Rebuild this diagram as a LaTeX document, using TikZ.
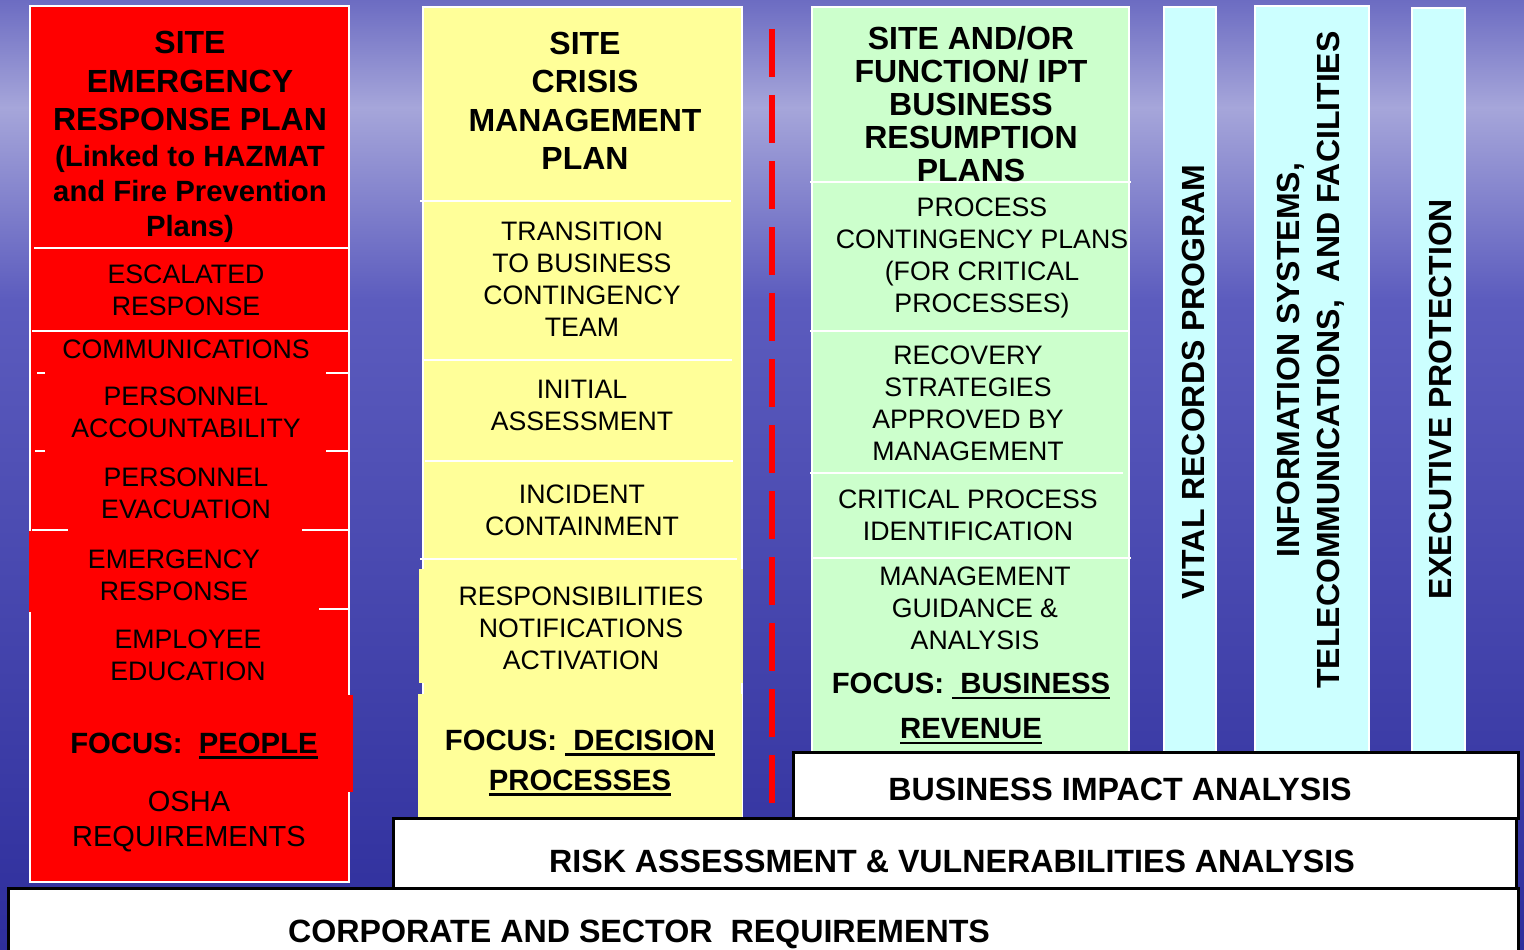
\documentclass[tikz,border=0pt]{standalone}
\usepackage{fontspec}
\setmainfont{Liberation Sans}
\usepackage{tikz}
\usetikzlibrary{calc}

\definecolor{planred}{HTML}{FF0000}
\definecolor{planyellow}{HTML}{FFFF99}
\definecolor{plangreen}{HTML}{CCFFCC}
\definecolor{plancyan}{HTML}{CCFFFF}
\definecolor{seatop}{HTML}{6C6CC2}
\definecolor{seaband}{HTML}{A6A6DA}
\definecolor{seamid}{HTML}{5C5CBE}
\definecolor{seabottom}{HTML}{2E2E9C}

\newcommand{\focusul}[1]{\setbox0\hbox{#1}\rlap{\rule[-5.5pt]{\wd0}{2.5pt}}\box0}

\begin{document}
\begin{tikzpicture}[x=1pt, y=-1pt,
        column_style/.style={draw=white, line width=2pt},
        sep_style/.style={draw=white, line width=2pt},
        item_style/.style={inner sep=0pt, align=center, font=\fontsize{26.7}{32}\selectfont},
        head_style/.style={inner sep=0pt, align=center, font=\fontsize{32}{38.5}\selectfont\bfseries},
        focus_style/.style={inner sep=0pt, align=center, font=\fontsize{29.3}{40}\selectfont\bfseries},
        side_style/.style={inner sep=0pt, align=center, rotate=90, font=\fontsize{32}{40}\selectfont\bfseries},
        dash_style/.style={draw=planred, line width=6pt, dash pattern=on 48pt off 18pt},
        base_style/.style={draw=black, line width=3pt, fill=white},
        base_text_style/.style={inner sep=0pt, anchor=base, font=\fontsize{32.2}{38}\selectfont\bfseries}]

        % background
        \useasboundingbox (0,0) rectangle (1524,950);
        \shade [top color=seatop, bottom color=seaband] (0,0) rectangle (1524,108);
        \shade [top color=seaband, bottom color=seamid] (0,107) rectangle (1524,300);
        \shade [top color=seamid, bottom color=seabottom] (0,299) rectangle (1524,950);

        % emergency response column
        \draw [column_style, fill=planred] (30,6) rectangle (349,882);
        \fill [planred] (29,531) rectangle (347,612);
        \fill [planred] (33,695) rectangle (353,792);
        \draw [sep_style] (34,248) -- (350,248);
        \draw [sep_style] (32,331) -- (348,331);
        \draw [sep_style] (37,373) -- (45,373);
        \draw [sep_style] (326,373) -- (348,373);
        \draw [sep_style] (35,451) -- (45,451);
        \draw [sep_style] (326,451) -- (348,451);
        \draw [sep_style] (32,530) -- (68,530);
        \draw [sep_style] (302,530) -- (348,530);
        \draw [sep_style] (319,609) -- (348,609);

        \node [head_style](r1) at (190,81) {SITE\\EMERGENCY\\RESPONSE PLAN};
        \node [head_style, font=\fontsize{29.3}{35}\selectfont\bfseries](r2) at (190,194) {(Linked to HAZMAT\\and Fire Prevention\\Plans)};
        \node [item_style](r3) at (186,290) {ESCALATED\\RESPONSE};
        \node [item_style, anchor=base](r4) at (186,358) {COMMUNICATIONS};
        \node [item_style](r5) at (186,412) {PERSONNEL\\ACCOUNTABILITY};
        \node [item_style](r6) at (186,493) {PERSONNEL\\EVACUATION};
        \node [item_style](r7) at (174,575) {EMERGENCY\\RESPONSE};
        \node [item_style](r8) at (188,655) {EMPLOYEE\\EDUCATION};
        \node [focus_style, anchor=base](r9) at (194,753) {FOCUS:\ \ \focusul{PEOPLE}};
        \node [item_style, font=\fontsize{29}{35}\selectfont](r10) at (189,822) {OSHA\\REQUIREMENTS};

        % crisis management column
        \draw [column_style, fill=planyellow] (423,7) rectangle (742,817);
        \fill [planyellow] (419,569) rectangle (743,683);
        \fill [planyellow] (418,694) rectangle (742,818);
        \draw [sep_style] (420,201) -- (731,201);
        \draw [sep_style] (422,360) -- (732,360);
        \draw [sep_style] (425,461) -- (733,461);
        \draw [sep_style] (420,559) -- (737,559);

        \node [head_style](y1) at (585,101) {SITE\\CRISIS\\MANAGEMENT\\PLAN};
        \node [item_style](y2) at (582,279) {TRANSITION\\TO BUSINESS\\CONTINGENCY\\TEAM};
        \node [item_style](y3) at (582,405) {INITIAL\\ASSESSMENT};
        \node [item_style](y4) at (582,510) {INCIDENT\\CONTAINMENT};
        \node [item_style](y5) at (581,628) {RESPONSIBILITIES\\NOTIFICATIONS\\ACTIVATION};
        \node [focus_style](y6) at (580,763) {FOCUS: \focusul{\ DECISION}\\\focusul{PROCESSES}};

        % divider
        \coordinate (d1) at (772,29);
        \coordinate (d2) at (772,803);
        \draw [dash_style] (d1) -- (d2);

        % business resumption column
        \draw [column_style, fill=plangreen] (812,7) rectangle (1129,752);
        \draw [sep_style] (810,182) -- (1131,182);
        \draw [sep_style] (810,331) -- (1129,331);
        \draw [sep_style] (810,473) -- (1123,473);
        \draw [sep_style] (812,558) -- (1131,558);

        \node [head_style, font=\fontsize{32}{33}\selectfont\bfseries](g1) at (971,104) {SITE AND/OR\\FUNCTION/ IPT\\BUSINESS\\RESUMPTION\\PLANS};
        \node [item_style](g2) at (982,258) {PROCESS\\CONTINGENCY PLANS\\(FOR CRITICAL\\PROCESSES)};
        \node [item_style](g3) at (968,403) {RECOVERY\\STRATEGIES\\APPROVED BY\\MANAGEMENT};
        \node [item_style](g4) at (968,515) {CRITICAL PROCESS\\IDENTIFICATION};
        \node [item_style](g5) at (975,608) {MANAGEMENT\\GUIDANCE \&\\ANALYSIS};
        \node [focus_style, font=\fontsize{29.3}{45}\selectfont\bfseries](g6) at (971,709) {FOCUS: \focusul{\ BUSINESS}\\\focusul{REVENUE}};

        % support programs
        \draw [column_style, fill=plancyan] (1164,7) rectangle (1216,752);
        \draw [column_style, fill=plancyan] (1255,6) rectangle (1369,752);
        \draw [column_style, fill=plancyan] (1412,8) rectangle (1465,752);
        \node [side_style](c1) at (1193,382) {VITAL RECORDS PROGRAM};
        \node [side_style](c2) at (1311,360) {INFORMATION SYSTEMS,\\TELECOMMUNICATIONS,\ \ AND FACILITIES};
        \node [side_style](c3) at (1440,399) {EXECUTIVE PROTECTION};

        % foundation layers
        \draw [base_style] (8,888) rectangle (1518,965);
        \draw [base_style] (393,818) rectangle (1516,888);
        \draw [base_style] (793,752) rectangle (1518,818);
        \node [base_text_style](b1) at (639,942) {CORPORATE AND SECTOR\ \ REQUIREMENTS};
        \node [base_text_style](b2) at (952,872) {RISK ASSESSMENT \& VULNERABILITIES ANALYSIS};
        \node [base_text_style](b3) at (1120,800) {BUSINESS IMPACT ANALYSIS};
\end{tikzpicture}
\end{document}
